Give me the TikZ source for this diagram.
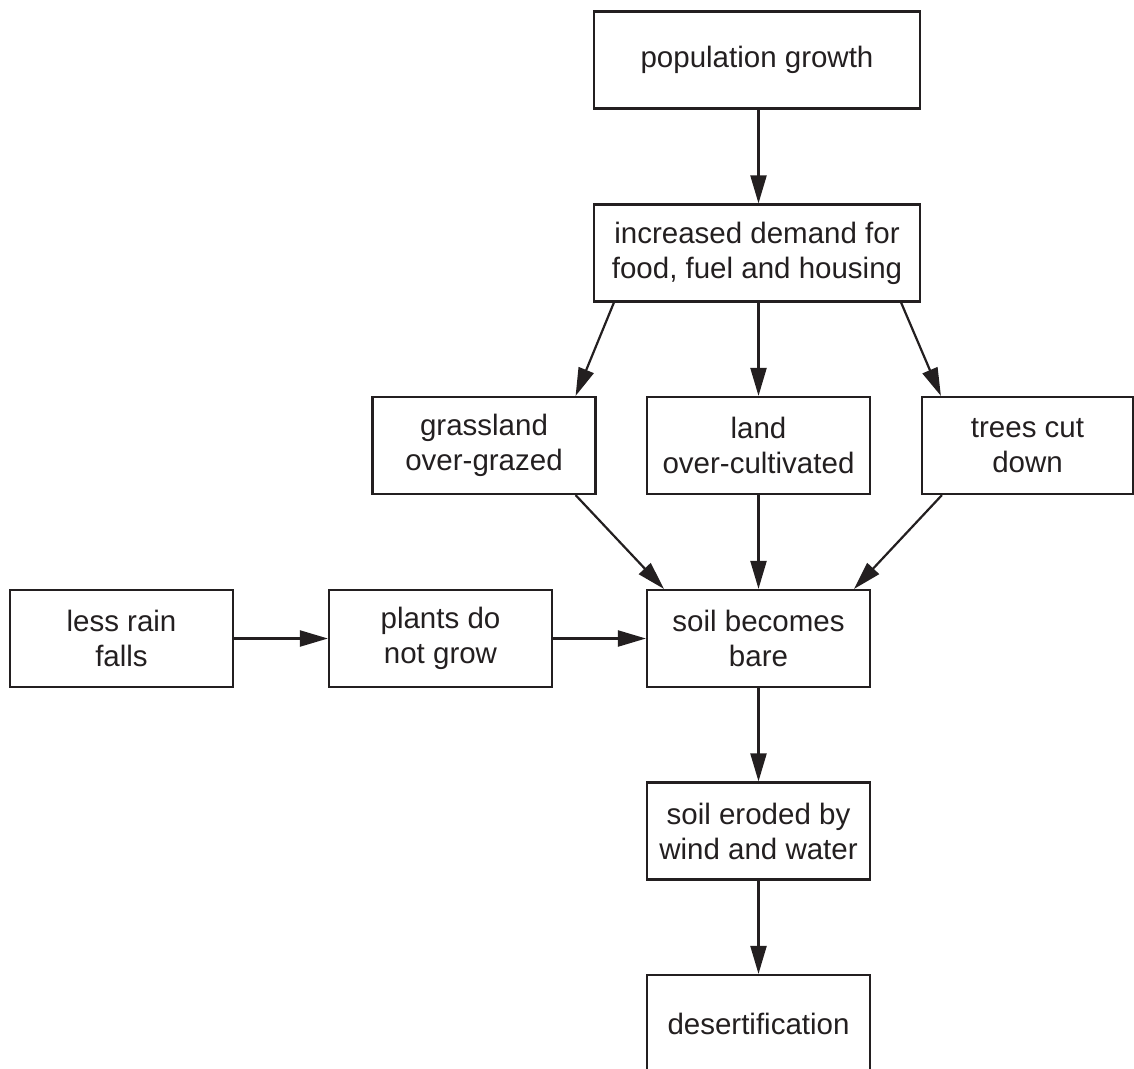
\documentclass[tikz,border=0pt]{standalone}
\usepackage{fontspec}
\setmainfont{Liberation Sans}
\usetikzlibrary{arrows.meta}
\definecolor{ink}{HTML}{231F20}

\begin{document}
\begin{tikzpicture}[x=1pt,y=-1pt,
  box/.style={draw=ink,line width=2.2pt,text=ink,align=center,minimum width=223pt,minimum height=97pt,font=\fontsize{29.5}{35}\selectfont},
  widebox/.style={box,minimum width=326pt},
  flow/.style={draw=ink,line width=2.2pt,-{Triangle[length=28pt,width=16pt]}}]
\useasboundingbox (0,0) rectangle (1134,1068);
\clip (0,0) rectangle (1134,1068);
\node[widebox] (growth) at (757,60) {population growth};
\node[widebox] (demand) at (757,253) {increased demand for\\food, fuel and housing};
\node[box] (grazed) at (484,445.5) {grassland\\over-grazed};
\node[box] (cultivated) at (758.5,445.5) {land\\over-cultivated};
\node[box,minimum width=211pt] (trees) at (1027.5,445.5) {trees cut\\down};
\node[box] (rain) at (121.5,638.5) {less rain\\falls};
\node[box] (plants) at (440.5,638.5) {plants do\\not grow};
\node[box] (bare) at (758.5,638.5) {soil becomes\\bare};
\node[box] (eroded) at (758.5,831) {soil eroded by\\wind and water};
\node[box] (desert) at (758.5,1023.5) {desertification};
\draw[flow] (growth.south -| cultivated) -- (demand.north -| cultivated);
\draw[flow] ([xshift=21pt]demand.south west) -- ([xshift=-21pt]grazed.north east);
\draw[flow] (demand.south -| cultivated) -- (cultivated.north);
\draw[flow] ([xshift=-20pt]demand.south east) -- ([xshift=20pt]trees.north west);
\draw[flow] ([xshift=-21pt]grazed.south east) -- ([xshift=18pt]bare.north west);
\draw[flow] (cultivated.south) -- (bare.north);
\draw[flow] ([xshift=21pt]trees.south west) -- ([xshift=-17pt]bare.north east);
\draw[flow] (rain.east) -- (plants.west);
\draw[flow] (plants.east) -- (bare.west);
\draw[flow] (bare.south) -- (eroded.north);
\draw[flow] (eroded.south) -- (desert.north);
\end{tikzpicture}
\end{document}
